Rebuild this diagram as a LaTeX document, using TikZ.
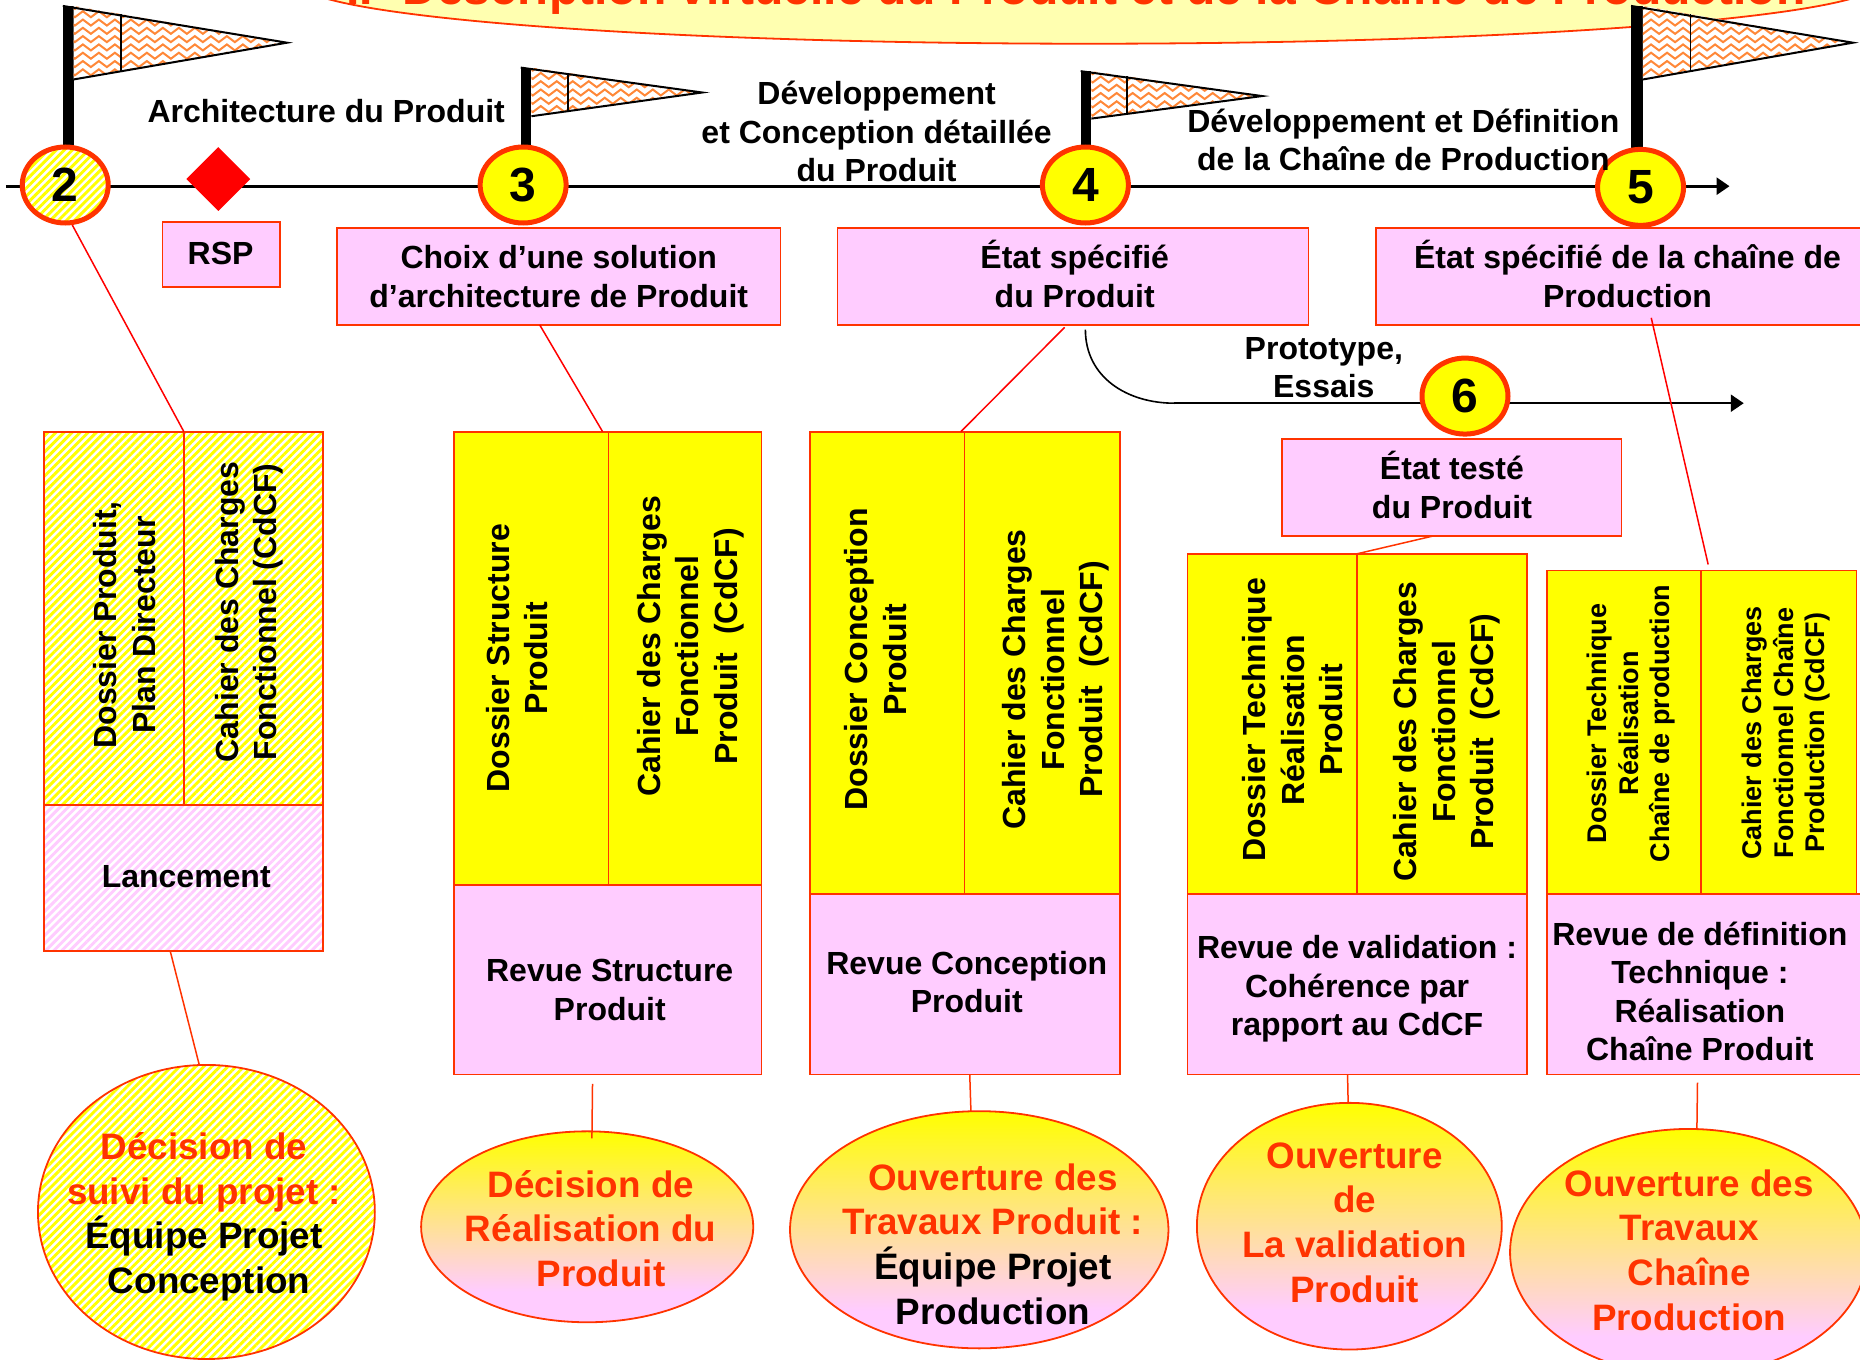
\documentclass[tikz,border=0pt]{standalone}
\usepackage{fontspec}
\setmainfont{Liberation Sans}
\usetikzlibrary{calc,shapes.geometric,patterns,patterns.meta,decorations.pathmorphing,arrows.meta}
\definecolor{rouge}{HTML}{FF3300}
\definecolor{rose}{HTML}{FFCCFF}
\definecolor{jaune}{HTML}{FFFF00}
\definecolor{pale}{HTML}{FFFFB0}
\definecolor{flagline}{HTML}{FF8838}
\pgfdeclareverticalshading{jauneRose}{100bp}{color(0bp)=(rose); color(33bp)=(rose); color(75bp)=(jaune); color(100bp)=(jaune)}
\tikzset{
  txt/.style={align=center,inner sep=0pt,font=\bfseries\fontsize{32}{38.5}\selectfont,text=black},
  small/.style={align=center,inner sep=0pt,font=\bfseries\fontsize{27}{31.5}\selectfont,text=black},
  bigt/.style={align=center,inner sep=0pt,font=\bfseries\fontsize{36.8}{44.7}\selectfont,text=rouge},
  boite/.style={draw=rouge,line width=1.8pt,inner sep=0pt,outer sep=0pt},
  pinkbox/.style={boite,fill=rose},
  yelbox/.style={boite,fill=jaune},
  hatched/.style={preaction={fill=white},preaction={pattern={Lines[angle=45,distance=5.7pt,line width=2.9pt]},pattern color=#1}},
  hatchy/.style={boite,hatched=jaune},
  hatchp/.style={boite,hatched=rose},
  jalon/.style={ellipse,draw=rouge,line width=5pt,inner sep=0pt,minimum width=86pt,minimum height=76pt,font=\bfseries\fontsize{48}{48}\selectfont},
  lien/.style={draw=red,line width=1.5pt},
  lieno/.style={draw=rouge,line width=1.5pt},
  axe/.style={draw=black,line width=2.8pt,-{Triangle[length=13pt,width=17pt]}},
  grad/.style={draw=rouge,line width=1.8pt,inner sep=0pt,outer sep=0pt,shading=jauneRose}
}
% \rectn{name}{x1}{y1}{x2}{y2}{style}
\newcommand{\rectn}[6]{\path let \p1=(#2,#3), \p2=(#4,#5), \n1={abs(\x2-\x1)}, \n2={abs(\y2-\y1)} in
  node[#6,minimum width=\n1,minimum height=\n2,anchor=north west] (#1) at (\p1) {};}
% \ovale{name}{x1}{y1}{x2}{y2}{style}
\newcommand{\ovale}[6]{\path let \p1=({(#2+#4)/2},{(#3+#5)/2}), \p2=(#2,#3), \p3=(#4,#5), \n1={abs(\x3-\x2)}, \n2={abs(\y3-\y2)} in
  node[#6,ellipse,minimum width=\n1,minimum height=\n2] (#1) at (\p1) {};}
% \fanion{name}{polex1}{polex2}{poleybottom}{ytop}{ybot}{tipx}{tipy}{linex}
\newcommand{\fanion}[9]{%
  \fill[black] (#2,#5) rectangle (#3,#4);
  \begin{scope}
    \clip (#3,#5) -- (#7,#8) -- (#3,#6) -- cycle;
    \fill[white] (#3,#5) -- (#7,#8) -- (#3,#6) -- cycle;
    \foreach \yy in {#5,...,#6}{\pgfmathparse{int(mod(\yy-#5,7))}\ifnum\pgfmathresult=0
      \draw[flagline,line width=2pt,decorate,decoration={zigzag,segment length=16pt,amplitude=3pt}] (#2,\yy) -- (#7,\yy);\fi}
  \end{scope}
  \draw[black,line width=2pt] (#2,#5) -- (#7,#8) -- (#3,#6);
  \draw[black,line width=1.6pt] (#9,{#5+(#9-#3)/(#7-#3)*(#8-#5)}) -- (#9,{#6+(#9-#3)/(#7-#3)*(#8-#6)});
}
\begin{document}
\begin{tikzpicture}[x=1.18622pt,y=-1.18586pt]
\useasboundingbox[fill=white] (0,0) rectangle (1568,1146);
\clip (0,0) rectangle (1568,1146);

% title bubble
\node[ellipse,draw=rouge,line width=1.8pt,fill=pale,minimum width=1582pt,minimum height=123pt,inner sep=0pt,outer sep=0pt] (titre) at (918,-15) {};
\node[inner sep=0pt,anchor=base,font=\bfseries\fontsize{48}{48}\selectfont,text=rouge] (titretxt) at (907,4) {II- Description virtuelle du Produit et de la Chaîne de Production};

% flags
\fanion{f2}{53}{62}{130}{5}{67}{242}{36}{102}
\fanion{f3}{439}{448}{130}{57}{98}{592}{78}{479}
\fanion{f4}{911}{920}{130}{60}{100}{1064}{81}{950}
\fanion{f5}{1375}{1385}{130}{5}{67}{1562}{36}{1425}

% timeline
\coordinate (deb) at (5,157);
\coordinate (fin) at (1458,157);
\draw[axe] (deb) -- (fin);
\node[diamond,fill=red,inner sep=0pt,minimum width=64pt,minimum height=64pt] (rspd) at (184,151) {};
\node[jalon,hatched=jaune] (m2) at (55,156) {2};
\node[jalon,fill=jaune] (m3) at (441,156) {3};
\node[jalon,fill=jaune] (m4) at (915,156) {4};
\node[jalon,fill=jaune] (m5) at (1383,158) {5};

% timeline labels
\node[txt] (l1) at (275,94) {Architecture du Produit};
\node[txt] (l2) at (739,111) {Développement\\et Conception détaillée\\du Produit};
\node[txt] (l3) at (1183,118) {Développement et Définition\\de la Chaîne de Production};

% second line
\coordinate (c6s) at (915,278);
\coordinate (c6m) at (990,340);
\coordinate (c6e) at (1470,340);
\draw[black,line width=1.6pt] (c6s) .. controls (915,318) and (950,340) .. (c6m);
\draw[axe,line width=2.4pt] (c6m) -- (c6e);
\node[jalon,fill=jaune] (m6) at (1235,334) {6};
\node[txt] (l4) at (1116,310) {Prototype,\\Essais};

% state boxes
\rectn{rsp}{137}{187}{236}{242}{pinkbox}
\node[txt] (rspt) at (186,214) {RSP};
\rectn{b3}{284}{192}{658}{274}{pinkbox}
\node[txt] (b3t) at (471,233) {Choix d’une solution\\d’architecture de Produit};
\rectn{b4}{706}{192}{1103}{274}{pinkbox}
\node[txt] (b4t) at (906,231) {État spécifié\\du Produit};
\rectn{b5}{1160}{192}{1590}{274}{pinkbox}
\node[txt] (b5t) at (1372,231) {État spécifié de la chaîne de\\Production};
\rectn{b6}{1081}{370}{1367}{452}{pinkbox}
\node[txt] (b6t) at (1224,409) {État testé\\du Produit};

% column 1
\rectn{c1a}{37}{364}{155}{679}{hatchy}
\rectn{c1b}{155}{364}{272}{679}{hatchy}
\rectn{c1r}{37}{679}{272}{802}{hatchp}
\node[txt,rotate=90] (c1at) at (105,527) {Dossier Produit,\\Plan Directeur};
\node[txt,rotate=90] (c1bt) at (210,516) {Cahier des Charges\\Fonctionnel (CdCF)};
\node[txt] (c1rt) at (157,739) {Lancement};
% column 2
\rectn{c2a}{383}{364}{513}{746}{yelbox}
\rectn{c2b}{513}{364}{642}{746}{yelbox}
\rectn{c2r}{383}{746}{642}{906}{pinkbox}
\node[txt,rotate=90] (c2at) at (436,555) {Dossier Structure\\Produit};
\node[txt,rotate=90] (c2bt) at (582,545) {Cahier des Charges\\Fonctionnel\\Produit\ \ (CdCF)};
\node[txt] (c2rt) at (514,835) {Revue Structure\\Produit};
% column 3
\rectn{c3a}{683}{364}{813}{754}{yelbox}
\rectn{c3b}{813}{364}{944}{754}{yelbox}
\rectn{c3r}{683}{754}{944}{906}{pinkbox}
\node[txt,rotate=90] (c3at) at (738,556) {Dossier Conception\\Produit};
\node[txt,rotate=90] (c3bt) at (890,573) {Cahier des Charges\\Fonctionnel\\Produit\ \ (CdCF)};
\node[txt] (c3rt) at (815,828) {Revue Conception\\Produit};
% column 4
\rectn{c4a}{1001}{467}{1144}{754}{yelbox}
\rectn{c4b}{1144}{467}{1287}{754}{yelbox}
\rectn{c4r}{1001}{754}{1287}{906}{pinkbox}
\node[txt,rotate=90] (c4at) at (1090,607) {Dossier Technique\\Réalisation\\Produit};
\node[txt,rotate=90] (c4bt) at (1220,617) {Cahier des Charges\\Fonctionnel\\Produit\ \ (CdCF)};
\node[txt] (c4rt) at (1144,834) {Revue de validation :\\Cohérence par\\rapport au CdCF};
% column 5
\rectn{c5a}{1304}{481}{1434}{754}{yelbox}
\rectn{c5b}{1434}{481}{1565}{754}{yelbox}
\rectn{c5r}{1304}{754}{1590}{906}{pinkbox}
\node[small,rotate=90] (c5at) at (1375,610) {Dossier Technique\\Réalisation\\Chaîne de production};
\node[small,rotate=90] (c5bt) at (1506,618) {Cahier des Charges\\Fonctionnel Chaîne\\Production (CdCF)};
\node[txt] (c5rt) at (1433,836) {Revue de définition\\Technique :\\Réalisation\\Chaîne Produit};

% ellipses
\ovale{e1}{32}{898}{316}{1146}{hatchy}
\node[bigt] (e1t) at (172,1026) {Décision de\\suivi du projet :\\\textcolor{black}{Équipe Projet}\\\textcolor{black}{\ Conception}};
\ovale{e2}{355}{954}{635}{1115}{grad}
\node[bigt] (e2t) at (498,1036) {Décision de\\Réalisation du\\\ \ Produit};
\ovale{e3}{666}{937}{985}{1137}{grad}
\node[bigt] (e3t) at (837,1049) {Ouverture des\\Travaux Produit :\\\textcolor{black}{Équipe Projet}\\\textcolor{black}{Production}};
\ovale{e4}{1009}{930}{1266}{1138}{grad}
\node[bigt] (e4t) at (1142,1031) {Ouverture\\de\\La validation\\Produit};
\ovale{e5}{1273}{952}{1574}{1160}{grad}
\node[bigt] (e5t) at (1424,1054) {Ouverture des\\Travaux\\Chaîne\\Production};

% connectors
\draw[lien] (m2.-80) -- (c1a.north east);
\draw[lien] ($(b3.south)+(-16,0)$) -- ($(c2a.north east)+(-5,0)$);
\draw[lien] ($(b4.south)+(-7,2)$) -- ($(c3a.north east)+(-3,0)$);
\draw[lieno] ($(b6.south)+(-16,0)$) -- (c4a.north east);
\draw[lien] ($(b5.south)+(17,-6)$) -- ($(c5a.north east)+(6,-5)$);
\draw[lieno] ($(c1r.south)+(-11,0)$) -- ($(e1.north)+(-6,0)$);
\draw[lieno] ($(c2r.south)+(-13,8)$) -- ($(e2.north)+(4,6)$);
\draw[lieno] ($(c3r.south)+(4,0)$) -- ($(e3.north)+(-7,0)$);
\draw[lieno] ($(c4r.south)+(-8,0)$) -- ($(e4.north)+(-1,0)$);
\draw[lieno] ($(c5r.south)+(-16,7)$) -- ($(e5.north)+(7,0)$);
\end{tikzpicture}
\end{document}
